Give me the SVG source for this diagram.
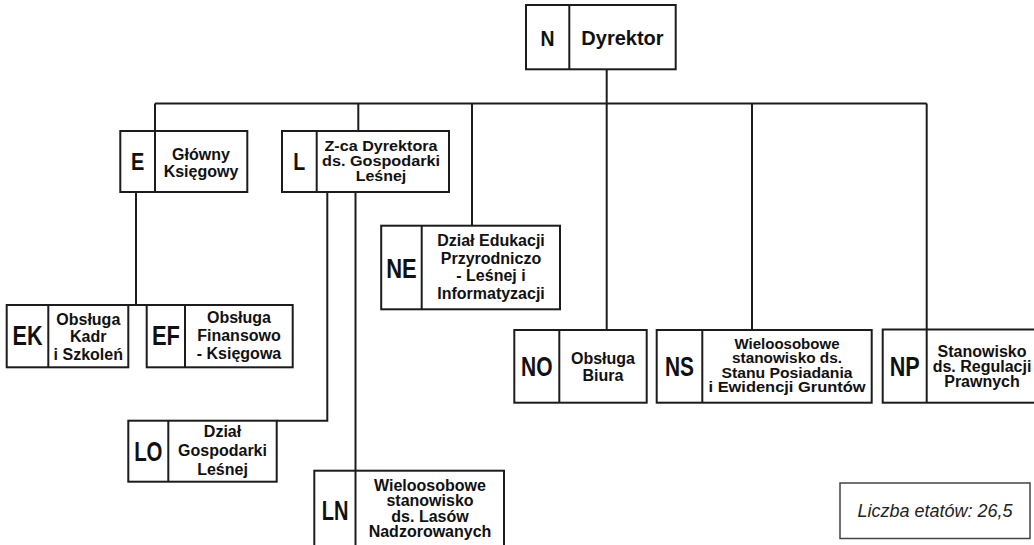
<svg xmlns="http://www.w3.org/2000/svg" width="1034" height="545" viewBox="0 0 1034 545">
<style>
  .box{fill:#fff;stroke:#1c1c1c;stroke-width:2}
  .div{stroke:#1c1c1c;stroke-width:2}
  .conn{fill:none;stroke:#1c1c1c;stroke-width:2}
  .code{font-family:"Liberation Sans",Arial,sans-serif;font-weight:bold;font-size:27px;fill:#111;text-anchor:middle}
  .code1{font-family:"Liberation Sans",Arial,sans-serif;font-weight:bold;font-size:23px;fill:#111;text-anchor:middle}
  .lbl{font-family:"Liberation Sans",Arial,sans-serif;font-weight:bold;font-size:16px;fill:#111;text-anchor:middle}
  .lbls{font-family:"Liberation Sans",Arial,sans-serif;font-weight:bold;font-size:14px;fill:#111;text-anchor:middle}
  .lblm{font-family:"Liberation Sans",Arial,sans-serif;font-weight:bold;font-size:14.5px;fill:#111;text-anchor:middle}
  .legend{font-family:"Liberation Sans",Arial,sans-serif;font-style:italic;font-size:18px;fill:#222;text-anchor:middle}
</style>
<rect width="1034" height="545" fill="#fff"/>
<g id="connectors">
  <path class="conn" d="M606.7,69.3 V330"/>
  <path class="conn" d="M155,103.5 H926.7"/>
  <path class="conn" d="M155,103.5 V131"/>
  <path class="conn" d="M358.3,103.5 V131"/>
  <path class="conn" d="M472,103.5 V225.7"/>
  <path class="conn" d="M752,103.5 V330"/>
  <path class="conn" d="M926.7,103.5 V329.5"/>
  <path class="conn" d="M136,192 V305 M128.3,305 H146.7"/>
  <path class="conn" d="M327.3,192 V420.7 H276.7"/>
  <path class="conn" d="M355.5,192 V470.7"/>
</g>
<g id="N">
  <rect class="box" x="526" y="5" width="149.7" height="64.3"/>
  <line class="div" x1="569.3" y1="5" x2="569.3" y2="69.3"/>
  <text class="code1" x="547.6" y="46" style="font-size:22px" textLength="14" lengthAdjust="spacingAndGlyphs">N</text>
  <text class="lbl" x="622.5" y="45" style="font-size:20px">Dyrektor</text>
</g>
<g id="E">
  <rect class="box" x="120.3" y="131" width="127" height="61"/>
  <line class="div" x1="155" y1="131" x2="155" y2="192"/>
  <text class="code1" x="137.7" y="169.5" textLength="13.3" lengthAdjust="spacingAndGlyphs">E</text>
  <text class="lbl" x="201" y="160">Główny</text>
  <text class="lbl" x="201" y="177">Księgowy</text>
</g>
<g id="L">
  <rect class="box" x="282" y="131" width="167" height="61"/>
  <line class="div" x1="316.7" y1="131" x2="316.7" y2="192"/>
  <text class="code1" x="299.3" y="169.5" textLength="12" lengthAdjust="spacingAndGlyphs">L</text>
  <text class="lblm" x="381" y="150.8" textLength="113" lengthAdjust="spacingAndGlyphs">Z-ca Dyrektora</text>
  <text class="lblm" x="381" y="165.8" textLength="118" lengthAdjust="spacingAndGlyphs">ds. Gospodarki</text>
  <text class="lblm" x="381" y="180.8" textLength="50.5" lengthAdjust="spacingAndGlyphs">Leśnej</text>
</g>
<g id="NE">
  <rect class="box" x="381.2" y="225.7" width="178.8" height="83.6"/>
  <line class="div" x1="421.7" y1="225.7" x2="421.7" y2="309.3"/>
  <text class="code" x="401.5" y="277.5" textLength="30.5" lengthAdjust="spacingAndGlyphs">NE</text>
  <text class="lbl" x="491" y="246">Dział Edukacji</text>
  <text class="lbl" x="491" y="263.5">Przyrodniczo</text>
  <text class="lbl" x="491" y="281">- Leśnej i</text>
  <text class="lbl" x="491" y="298.5">Informatyzacji</text>
</g>
<g id="EK">
  <rect class="box" x="6.7" y="305" width="121.6" height="62.3"/>
  <line class="div" x1="48.3" y1="305" x2="48.3" y2="367.3"/>
  <text class="code" x="27.5" y="345" textLength="30" lengthAdjust="spacingAndGlyphs">EK</text>
  <text class="lbl" x="88.3" y="324.5">Obsługa</text>
  <text class="lbl" x="88.3" y="342">Kadr</text>
  <text class="lbl" x="88.3" y="359.5">i Szkoleń</text>
</g>
<g id="EF">
  <rect class="box" x="146.7" y="305" width="146" height="62.3"/>
  <line class="div" x1="185" y1="305" x2="185" y2="367.3"/>
  <text class="code" x="166" y="345" textLength="28" lengthAdjust="spacingAndGlyphs">EF</text>
  <text class="lbl" x="239" y="322.5">Obsługa</text>
  <text class="lbl" x="239" y="340.5">Finansowo</text>
  <text class="lbl" x="239" y="358.5">- Księgowa</text>
</g>
<g id="NO">
  <rect class="box" x="514.3" y="330" width="132.4" height="72.7"/>
  <line class="div" x1="559.3" y1="330" x2="559.3" y2="402.7"/>
  <text class="code" x="536.8" y="376" textLength="31.5" lengthAdjust="spacingAndGlyphs">NO</text>
  <text class="lbl" x="603" y="364">Obsługa</text>
  <text class="lbl" x="603" y="380.5">Biura</text>
</g>
<g id="NS">
  <rect class="box" x="656.7" y="330" width="215" height="72.7"/>
  <line class="div" x1="702.3" y1="330" x2="702.3" y2="402.7"/>
  <text class="code" x="679.5" y="376" textLength="29" lengthAdjust="spacingAndGlyphs">NS</text>
  <text class="lbls" x="787" y="348.8" textLength="105" lengthAdjust="spacingAndGlyphs">Wieloosobowe</text>
  <text class="lbls" x="787" y="363.2" textLength="110" lengthAdjust="spacingAndGlyphs">stanowisko ds.</text>
  <text class="lbls" x="787" y="377.6" textLength="131" lengthAdjust="spacingAndGlyphs">Stanu Posiadania</text>
  <text class="lbls" x="787" y="392" textLength="157" lengthAdjust="spacingAndGlyphs">i Ewidencji Gruntów</text>
</g>
<g id="NP">
  <rect class="box" x="882.7" y="329.5" width="160" height="73.2"/>
  <line class="div" x1="926.7" y1="329.5" x2="926.7" y2="402.7"/>
  <text class="code" x="904.7" y="376" textLength="30" lengthAdjust="spacingAndGlyphs">NP</text>
  <text class="lbl" x="982" y="357">Stanowisko</text>
  <text class="lbl" x="982" y="372">ds. Regulacji</text>
  <text class="lbl" x="982" y="387">Prawnych</text>
</g>
<g id="LO">
  <rect class="box" x="128.3" y="420.7" width="148.4" height="61"/>
  <line class="div" x1="168.3" y1="420.7" x2="168.3" y2="481.7"/>
  <text class="code" x="148.3" y="461" textLength="28.3" lengthAdjust="spacingAndGlyphs">LO</text>
  <text class="lbl" x="222.5" y="437.4">Dział</text>
  <text class="lbl" x="222.5" y="456.4">Gospodarki</text>
  <text class="lbl" x="222.5" y="475">Leśnej</text>
</g>
<g id="LN">
  <rect class="box" x="314.3" y="470.7" width="189.7" height="80"/>
  <line class="div" x1="355.5" y1="470.7" x2="355.5" y2="550"/>
  <text class="code" x="335" y="519.5" textLength="26.7" lengthAdjust="spacingAndGlyphs">LN</text>
  <text class="lbl" x="430" y="490.7">Wieloosobowe</text>
  <text class="lbl" x="430" y="506.4">stanowisko</text>
  <text class="lbl" x="430" y="521.7">ds. Lasów</text>
  <text class="lbl" x="430" y="536.7">Nadzorowanych</text>
</g>
<g id="legend">
  <rect x="840" y="483" width="190" height="55.5" fill="#fff" stroke="#444" stroke-width="1.5"/>
  <text class="legend" x="935" y="517">Liczba etatów: 26,5</text>
</g>
</svg>
